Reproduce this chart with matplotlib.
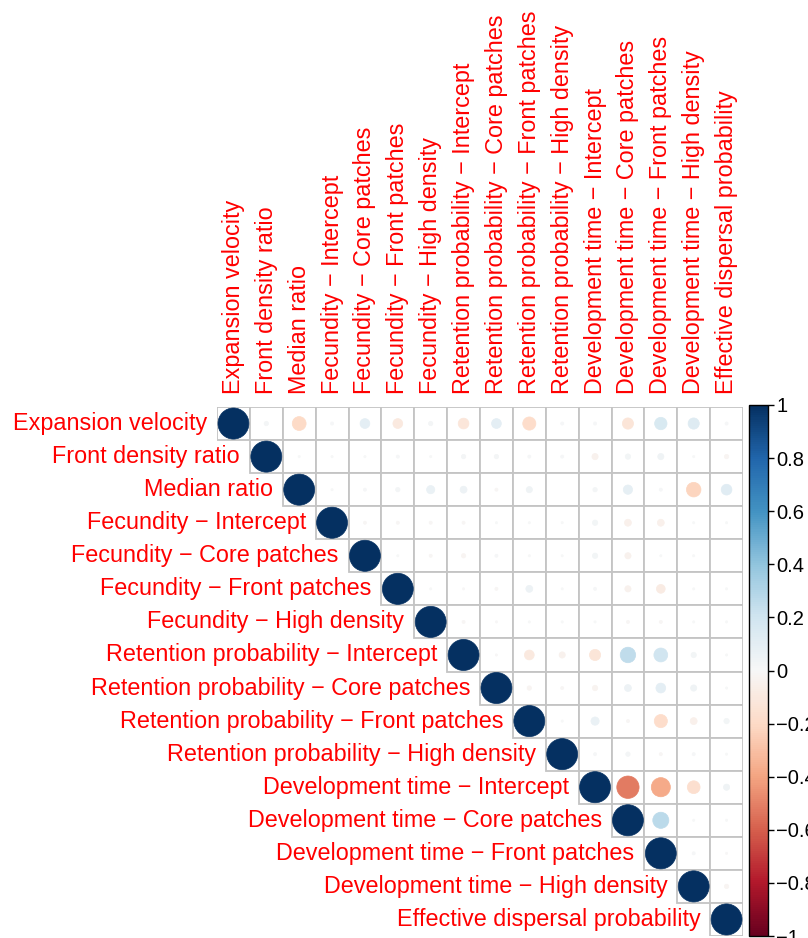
import numpy as np
import matplotlib
matplotlib.use("Agg")
import matplotlib.pyplot as plt
from matplotlib.patches import Rectangle, Circle
from matplotlib.colors import Normalize
from matplotlib.cm import ScalarMappable

plt.rcParams['font.family'] = ['Liberation Sans', 'DejaVu Sans']

# 変数名
names = [
    "Expansion velocity",
    "Front density ratio",
    "Median ratio",
    "Fecundity \u2212 Intercept",
    "Fecundity \u2212 Core patches",
    "Fecundity \u2212 Front patches",
    "Fecundity \u2212 High density",
    "Retention probability \u2212 Intercept",
    "Retention probability \u2212 Core patches",
    "Retention probability \u2212 Front patches",
    "Retention probability \u2212 High density",
    "Development time \u2212 Intercept",
    "Development time \u2212 Core patches",
    "Development time \u2212 Front patches",
    "Development time \u2212 High density",
    "Effective dispersal probability",
]

# 上三角の相関係数（対角より右側, 行ごと）
row0 = [0.02, -0.20, 0.01, 0.10, -0.10, 0.02, -0.12, 0.10, -0.18, 0.01, 0.01, -0.13, 0.16, 0.13, 0.01]
row1 = [0.005, 0.005, 0.005, 0.01, 0.005, 0.02, 0.02, 0.01, 0.01, -0.04, 0.03, 0.04, 0.005, -0.02]
row2 = [0.005, 0.01, 0.02, 0.07, 0.05, -0.01, 0.04, 0.0, 0.02, 0.09, 0.01, -0.22, 0.12]
row3 = [-0.01, -0.01, -0.01, -0.01, 0.005, 0.005, 0.005, 0.03, -0.05, -0.05, 0.005, 0.005]
row4 = [0.005, -0.01, -0.02, 0.01, 0.005, 0.005, 0.03, -0.04, 0.005, 0.005, 0.0]
row5 = [0.005, -0.005, -0.01, 0.05, 0.005, 0.01, -0.04, -0.08, 0.005, 0.005]
row6 = [-0.01, -0.005, 0.005, 0.005, 0.005, -0.01, -0.01, 0.005, 0.005]
row7 = [-0.005, -0.10, -0.04, -0.13, 0.25, 0.20, 0.03, 0.005]
row8 = [-0.02, -0.01, -0.03, 0.05, 0.10, 0.04, 0.005]
row9 = [0.005, 0.07, -0.01, -0.18, -0.05, 0.03]
row10 = [0.01, 0.02, -0.01, 0.01, 0.005]
row11 = [-0.52, -0.38, -0.17, 0.04]
row12 = [0.27, 0.005, 0.005]
row13 = [0.01, -0.005]
row14 = [-0.02]
upper_rows = [row0, row1, row2, row3, row4, row5, row6, row7, row8, row9,
              row10, row11, row12, row13, row14, []]

n = len(names)
corr = np.eye(n)
for i, r in enumerate(upper_rows):
    for k, v in enumerate(r):
        corr[i, i + 1 + k] = v
        corr[i + 1 + k, i] = v

W, H = 808, 938
fig = plt.figure(figsize=(W / 100, H / 100), dpi=100)
ax = fig.add_axes([217 / W, 2 / H, 526 / W, 529 / H])
ax.set_xlim(0, n)
ax.set_ylim(n, 0)
ax.axis("off")

cmap = plt.get_cmap("RdBu")
norm = Normalize(-1, 1)

for i in range(n):
    for j in range(i, n):
        ax.add_patch(Rectangle((j, i), 1, 1, facecolor="white",
                               edgecolor="#c4c4c4", linewidth=1.3))
for i in range(n):
    for j in range(i, n):
        r = corr[i, j]
        rad = 0.47 * np.sqrt(abs(r))
        if rad > 0:
            ax.add_patch(Circle((j + 0.5, i + 0.5), rad, facecolor=cmap(norm(r)),
                                edgecolor=cmap(norm(r)), linewidth=0.5))

# ラベル
for i, nm in enumerate(names):
    ax.text(i - 0.3, i + 0.5, nm, ha="right", va="center", color="red",
            fontsize=16.8, clip_on=False)
    ax.text(i + 0.5, -0.4, nm, ha="center", va="bottom", color="red",
            fontsize=16.8, rotation=90, clip_on=False)

# カラーバー
cax = fig.add_axes([749 / W, 2 / H, 19 / W, 531 / H])
sm = ScalarMappable(norm=norm, cmap=cmap)
cb = fig.colorbar(sm, cax=cax, ticks=np.linspace(-1, 1, 11))
cb.ax.set_yticklabels([("%g" % t).replace("-", "\u2212") for t in np.round(np.linspace(-1, 1, 11), 1)])
cb.ax.tick_params(labelsize=14.5, length=4, width=1, pad=2)
cb.outline.set_linewidth(1)

fig.savefig("out.png", dpi=100)
